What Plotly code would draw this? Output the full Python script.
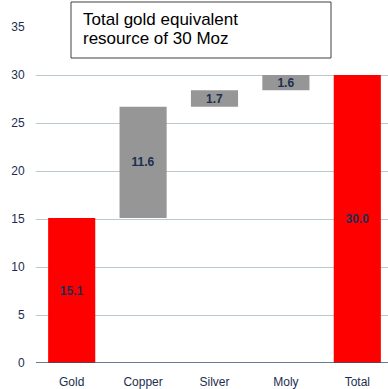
import plotly.graph_objects as go

categories = ["Gold", "Copper", "Silver", "Moly", "Total"]
values = [15.1, 11.6, 1.7, 1.6, 30.0]
bases = [0, 15.1, 26.7, 28.4, 0]
colors = ["#FF0000", "#969696", "#969696", "#969696", "#FF0000"]
labels = ["15.1", "11.6", "1.7", "1.6", "30.0"]
yticks = [0, 5, 10, 15, 20, 25, 30, 35]

fig = go.Figure()
fig.add_trace(go.Bar(
    x=categories, y=values, base=bases,
    marker=dict(color=colors, line=dict(width=0)),
    width=0.66,
    text=["<b>%s</b>" % t for t in labels],
    textposition="inside", insidetextanchor="middle",
    textfont=dict(family="Liberation Sans, Arial", size=12, color="#1B2E50"),
    constraintext="none",
    hoverinfo="skip",
))

fig.update_layout(
    width=388, height=389,
    margin=dict(l=36, r=0, t=27, b=26),
    paper_bgcolor="white", plot_bgcolor="white",
    showlegend=False,
    bargap=0.34,
    xaxis=dict(
        range=[-0.5, 4.43], showgrid=False, zeroline=False, showline=False,
        ticks="outside", ticklen=8, tickcolor="rgba(0,0,0,0)",
        tickfont=dict(family="Liberation Sans, Arial", size=12, color="#1B2E50"),
    ),
    yaxis=dict(
        range=[0, 35], tickvals=yticks, showgrid=True, gridcolor="#B9C9D1", gridwidth=1,
        zeroline=False, showline=False,
        ticks="outside", ticklen=8, tickcolor="rgba(0,0,0,0)",
        tickfont=dict(family="Liberation Sans, Arial", size=12, color="#1B2E50"),
    ),
    font=dict(family="Liberation Sans, Arial"),
)

# baseline axis line at 0
fig.add_shape(type="line", xref="paper", yref="y", x0=0, x1=1, y0=0, y1=0,
              line=dict(color="#3A4F6A", width=1.5), layer="above")

# title box
fig.add_shape(type="rect", xref="paper", yref="paper",
              x0=(71 - 36) / 352, x1=(331 - 36) / 352,
              y0=(363 - 58) / 336, y1=(363 - 2) / 336,
              line=dict(color="#404040", width=1), fillcolor="white", layer="above")
fig.add_annotation(xref="paper", yref="paper", x=(81 - 36) / 352, y=(363 - 19) / 336,
                   xanchor="left", yanchor="middle", showarrow=False,
                   text="Total gold equivalent",
                   font=dict(family="Liberation Sans, Arial", size=17, color="black"))
fig.add_annotation(xref="paper", yref="paper", x=(81 - 36) / 352, y=(363 - 39) / 336,
                   xanchor="left", yanchor="middle", showarrow=False,
                   text="resource of 30 Moz",
                   font=dict(family="Liberation Sans, Arial", size=17, color="black"))

fig.write_html("out.html")
